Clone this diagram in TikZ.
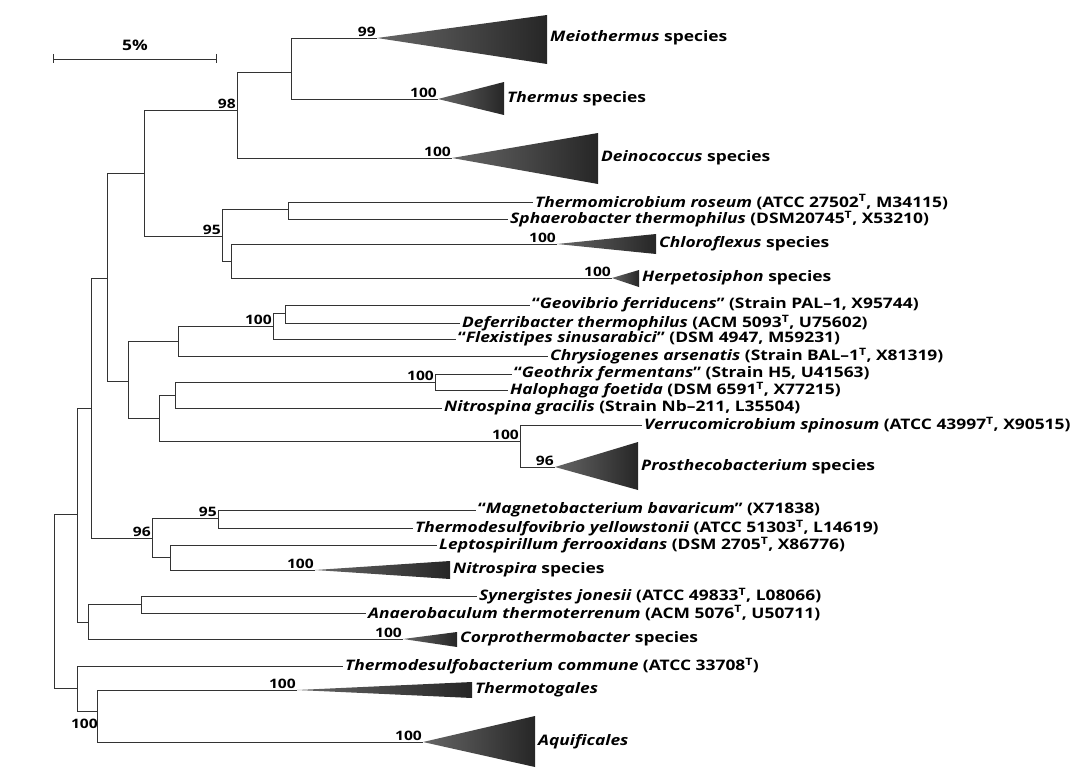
\documentclass[tikz,border=0pt]{standalone}
\usepackage{fontspec}
\setmainfont{Open Sans}[FakeStretch=1.2]

\tikzset{
  branch/.style={draw=black!80, line width=0.7pt},
  taxon/.style={anchor=west, inner sep=2pt, font=\bfseries\fontsize{14.5}{16}\selectfont},
  boot/.style={inner sep=1pt, font=\bfseries\fontsize{13}{16}\selectfont},
  wedge/.style={left color=black!60, right color=black!85}
}

\begin{document}
\begin{tikzpicture}[x=1pt,y=-1pt]
\useasboundingbox (0,0) rectangle (1075,776);

% inner nodes of the tree
\coordinate (root) at (54,601);
\coordinate (nA) at (77,514);
\coordinate (nB) at (91,408);
\coordinate (nC) at (107,278);
\coordinate (nD) at (144,173);
\coordinate (n98) at (237,110);
\coordinate (nMT) at (291,72);
\coordinate (n95) at (222,236);
\coordinate (nTS) at (288,209);
\coordinate (nCH) at (231,261);
\coordinate (nE) at (128,381);
\coordinate (nF) at (178,341);
\coordinate (n100a) at (273,326);
\coordinate (nGD) at (285,313);
\coordinate (nG) at (159,418);
\coordinate (nH) at (175,395);
\coordinate (nGH) at (435,382);
\coordinate (nVP) at (520,441);
\coordinate (n96) at (152,538);
\coordinate (n95b) at (218,518);
\coordinate (nLN) at (170,557);
\coordinate (nSyn) at (88,622);
\coordinate (nSA) at (141,604);
\coordinate (nK) at (77,688);
\coordinate (nTA) at (97,711);

% collapsed clades
\foreach \n/\ax/\ay/\bx/\bt/\bb in {aMel/377/38/547/15/64, aThe/438/99/504/82/115,
    aDei/452/158/598/133/184, aChl/557/244/656/234/254, aHer/612/278/639/270/287,
    aPro/555/467/638/442/490, aNis/315/570/450/561/579, aCor/403/639/457/632/647,
    aTto/297/690/472/682/698, aAqu/423/742/535/716/767}
  {
    \coordinate (\n) at (\ax,\ay);
    \shade[wedge] (\n) -- (\bx,\bt) -- (\bx,\bb) -- cycle;
  }

% leaves
\node[taxon] (tThm) at (533,202) {\textit{Thermomicrobium roseum} (ATCC 27502\textsuperscript{T}, M34115)};
\node[taxon] (tSph) at (508,219) {\textit{Sphaerobacter thermophilus} (DSM20745\textsuperscript{T}, X53210)};
\node[taxon] (tGeo) at (530,305) {“\textit{Geovibrio ferriducens}” (Strain PAL--1, X95744)};
\node[taxon] (tDef) at (460,323) {\textit{Deferribacter thermophilus} (ACM 5093\textsuperscript{T}, U75602)};
\node[taxon] (tFle) at (456,339) {“\textit{Flexistipes sinusarabici}” (DSM 4947, M59231)};
\node[taxon] (tChr) at (548,356) {\textit{Chrysiogenes arsenatis} (Strain BAL--1\textsuperscript{T}, X81319)};
\node[taxon] (tGth) at (512,374) {“\textit{Geothrix fermentans}” (Strain H5, U41563)};
\node[taxon] (tHal) at (508,390) {\textit{Halophaga foetida} (DSM 6591\textsuperscript{T}, X77215)};
\node[taxon] (tNsp) at (442,408) {\textit{Nitrospina gracilis} (Strain Nb--211, L35504)};
\node[taxon] (tVer) at (642,425) {\textit{Verrucomicrobium spinosum} (ATCC 43997\textsuperscript{T}, X90515)};
\node[taxon] (tMag) at (476,510) {“\textit{Magnetobacterium bavaricum}” (X71838)};
\node[taxon] (tTdv) at (413,528) {\textit{Thermodesulfovibrio yellowstonii} (ATCC 51303\textsuperscript{T}, L14619)};
\node[taxon] (tLep) at (437,545) {\textit{Leptospirillum ferrooxidans} (DSM 2705\textsuperscript{T}, X86776)};
\node[taxon] (tSyn) at (477,596) {\textit{Synergistes jonesii} (ATCC 49833\textsuperscript{T}, L08066)};
\node[taxon] (tAna) at (366,613) {\textit{Anaerobaculum thermoterrenum} (ACM 5076\textsuperscript{T}, U50711)};
\node[taxon] (tTdb) at (343,666) {\textit{Thermodesulfobacterium commune} (ATCC 33708\textsuperscript{T})};

\node[taxon] (tMel) at (548,38) {\textit{Meiothermus} species};
\node[taxon] (tThe) at (505,99) {\textit{Thermus} species};
\node[taxon] (tDei) at (599,158) {\textit{Deinococcus} species};
\node[taxon] (tChl) at (657,244) {\textit{Chloroflexus} species};
\node[taxon] (tHer) at (640,278) {\textit{Herpetosiphon} species};
\node[taxon] (tPro) at (639,467) {\textit{Prosthecobacterium} species};
\node[taxon] (tNis) at (451,570) {\textit{Nitrospira} species};
\node[taxon] (tCor) at (458,639) {\textit{Corprothermobacter} species};
\node[taxon] (tTto) at (473,690) {\textit{Thermotogales}};
\node[taxon] (tAqu) at (536,742) {\textit{Aquificales}};

% branches
\foreach \p/\c in {root/nA, root/nK, nA/nB, nA/nSyn, nB/nC, nB/n96, nC/nD, nC/nE,
    nD/n98, nD/n95, n98/nMT, n98/aDei, nMT/aMel, nMT/aThe,
    n95/nTS, n95/nCH, nTS/tThm.west, nTS/tSph.west, nCH/aChl, nCH/aHer,
    nE/nF, nE/nG, nF/n100a, nF/tChr.west, n100a/nGD, n100a/tFle.west,
    nGD/tGeo.west, nGD/tDef.west, nG/nH, nG/nVP, nH/nGH, nH/tNsp.west,
    nGH/tGth.west, nGH/tHal.west, nVP/tVer.west, nVP/aPro,
    n96/n95b, n96/nLN, n95b/tMag.west, n95b/tTdv.west, nLN/tLep.west, nLN/aNis,
    nSyn/nSA, nSyn/aCor, nSA/tSyn.west, nSA/tAna.west,
    nK/tTdb.west, nK/nTA, nTA/aTto, nTA/aAqu}
  \draw[branch] (\p) |- (\c);

% bootstrap values
\foreach \n/\at/\v in {b1/aMel/99, b2/aThe/100, b3/aDei/100, b4/n98/98, b5/n95/95,
    b6/aChl/100, b7/aHer/100, b8/n100a/100, b9/nGH/100, b10/nVP/100, b11/aPro/96,
    b12/n96/96, b13/n95b/95, b14/aNis/100, b15/aCor/100, b16/aTto/100, b17/aAqu/100}
  \node[boot, anchor=south east] (\n) at (\at) {\v};
\node[boot, anchor=north east] (b18) at ([xshift=2pt,yshift=-7pt]nTA) {100};

% scale bar
\draw[branch] (53,54) -- (53,63) (53,59) -- (216,59) (216,54) -- (216,63);
\node[boot, font=\bfseries\fontsize{14.5}{16}\selectfont] (sbar) at (135,45) {5\%};

\end{tikzpicture}
\end{document}
